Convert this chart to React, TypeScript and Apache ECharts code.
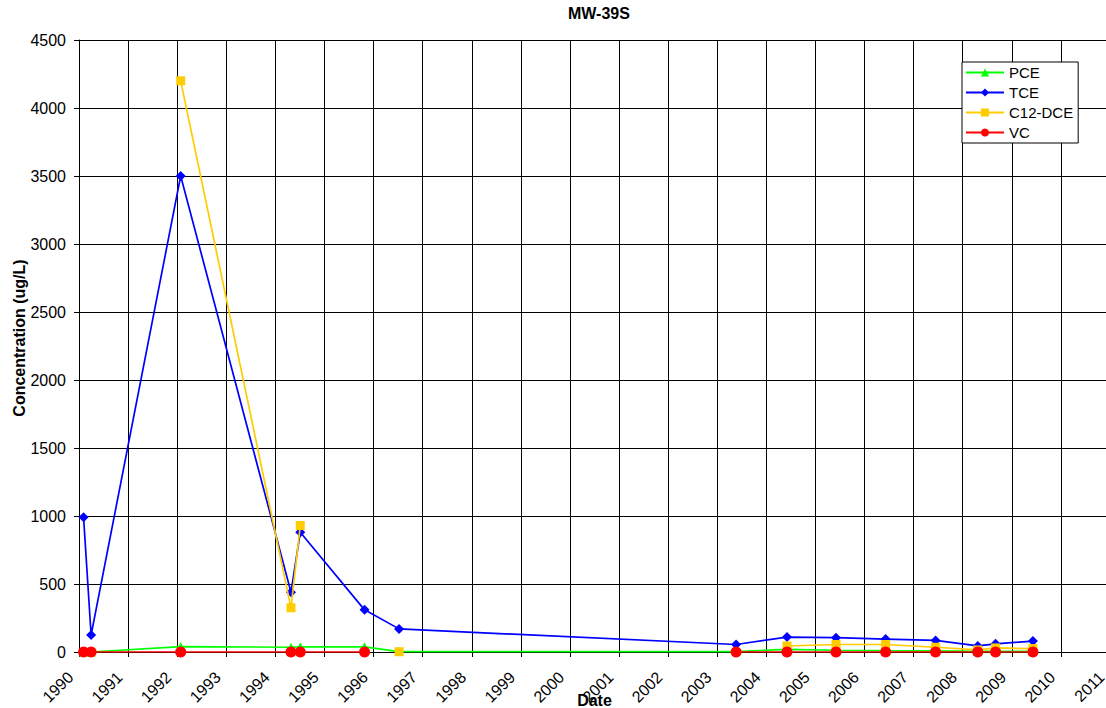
import React, { useEffect, useRef } from "react";
import * as echarts from "echarts";

const sampleDates = [
  "1990-02-04", "1990-04-01", "1992-01-27", "1994-04-27", "1994-07-05",
  "1995-10-26", "1996-07-09", "2003-05-21", "2004-06-03", "2005-06-03",
  "2006-06-07", "2007-06-13", "2008-04-22", "2008-09-02", "2009-06-07",
];
const pce = [0, 0, 40, 35, 38, 38, 3, 3, 20, 13, 10, 8, 5, 5, 5];
const tce = [990, 125, 3500, 440, 880, 310, 170, 55, 110, 105, 95, 85, 45, 60, 80];
const c12dce = [null, null, 4200, 325, 930, null, 2, null, 44, 55, 55, 35, 15, 30, 25];
const vc = [0, 0, 0, 0, 0, 0, null, 0, 0, 0, 0, 0, 0, 0, 0];

const seriesNames = ["PCE", "TCE", "C12-DCE", "VC"];
const seriesColors = ["#00FF00", "#0000FF", "#FFCC00", "#FF0000"];
const seriesSymbols = ["triangle", "diamond", "rect", "circle"];
const seriesSymbolSizes = [9, 10, 9, 11];

const xMinYear = 1990;
const xMaxYear = 2011;
const yMax = 4500;
const yStep = 500;

function toDecimalYear(s: string): number {
  const d = new Date(s + "T00:00:00Z");
  const y = d.getUTCFullYear();
  const start = Date.UTC(y, 0, 1);
  const end = Date.UTC(y + 1, 0, 1);
  return y + (d.getTime() - start) / (end - start);
}

const FONT = "'Liberation Sans', Arial, sans-serif";

export default function App() {
  const ref = useRef<HTMLDivElement>(null);
  useEffect(() => {
    if (!ref.current) return;
    const chart = echarts.init(ref.current, null, { renderer: "svg" });
    const xs = sampleDates.map(toDecimalYear);
    const allValues = [pce, tce, c12dce, vc];
    chart.setOption({
      animation: false,
      backgroundColor: "#ffffff",
      textStyle: { fontFamily: FONT },
      title: {
        text: "MW-39S",
        left: 563,
        top: 0,
        textStyle: { fontFamily: FONT, fontSize: 16, fontWeight: "bold", color: "#000" },
      },
      legend: {
        orient: "vertical",
        left: 962,
        top: 62,
        backgroundColor: "#ffffff",
        borderColor: "#000",
        borderWidth: 1,
        borderRadius: 0,
        padding: [3, 5, 3, 3],
        itemWidth: 38,
        itemHeight: 10,
        itemGap: 5,
        textStyle: { fontFamily: FONT, fontSize: 15, color: "#000" },
        data: seriesNames,
      },
      grid: { left: 79, top: 40, width: 1031, height: 612, outerBoundsMode: "none", containLabel: false },
      xAxis: {
        type: "value",
        min: xMinYear,
        max: xMaxYear,
        interval: 1,
        name: "Date",
        nameLocation: "middle",
        nameGap: 40,
        nameMoveOverlap: false,
        nameTextStyle: { fontFamily: FONT, fontSize: 16, fontWeight: "bold", color: "#000" },
        axisLine: { show: true, lineStyle: { color: "#000", width: 1 } },
        axisTick: { show: true, length: 5, lineStyle: { color: "#000" } },
        splitLine: { show: true, lineStyle: { color: "#000", width: 1 } },
        axisLabel: {
          rotate: 45,
          margin: 14,
          padding: [0, 12, 0, 0],
          fontFamily: FONT,
          fontSize: 16,
          color: "#000",
          showMaxLabel: true,
          showMinLabel: true,
          hideOverlap: false,
          formatter: (v: number) => String(Math.round(v)),
        },
      },
      yAxis: {
        type: "value",
        min: 0,
        max: yMax,
        interval: yStep,
        name: "Concentration (ug/L)",
        nameLocation: "middle",
        nameGap: 52,
        nameMoveOverlap: false,
        nameTextStyle: {
          fontFamily: FONT,
          fontSize: 16,
          fontWeight: "bold",
          color: "#000",
          padding: [0, 0, 0, 16],
        },
        axisLine: { show: true, lineStyle: { color: "#000", width: 1 } },
        axisTick: { show: true, length: 5, lineStyle: { color: "#000" } },
        splitLine: { show: true, lineStyle: { color: "#000", width: 1 } },
        axisLabel: {
          margin: 13,
          fontFamily: FONT,
          fontSize: 16,
          color: "#000",
          formatter: (v: number) => String(v),
        },
      },
      series: seriesNames.map((name, i) => ({
        name,
        type: "line",
        data: xs.map((x, j) => [x, allValues[i][j]]),
        connectNulls: false,
        showSymbol: true,
        showAllSymbol: true,
        symbol: seriesSymbols[i],
        symbolSize: seriesSymbolSizes[i],
        itemStyle: { color: seriesColors[i] },
        lineStyle: { color: seriesColors[i], width: 1.7 },
        z: 2 + i,
      })),
    });
    return () => chart.dispose();
  }, []);
  return (
    <div
      ref={ref}
      style={{ position: "fixed", left: 0, top: 0, width: 1106, height: 708, background: "#fff" }}
    />
  );
}
